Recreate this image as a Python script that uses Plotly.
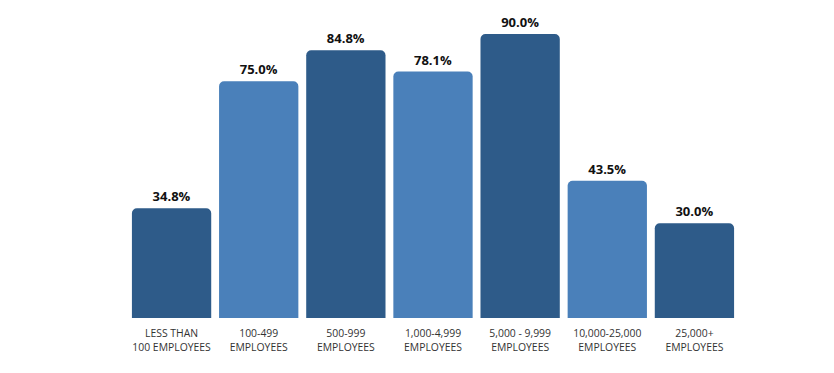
import plotly.graph_objects as go

categories = ["LESS THAN<br>100 EMPLOYEES", "100-499<br>EMPLOYEES", "500-999<br>EMPLOYEES",
              "1,000-4,999<br>EMPLOYEES", "5,000 - 9,999<br>EMPLOYEES", "10,000-25,000<br>EMPLOYEES",
              "25,000+<br>EMPLOYEES"]
values = [34.8, 75.0, 84.8, 78.1, 90.0, 43.5, 30.0]
labels = ["34.8%", "75.0%", "84.8%", "78.1%", "90.0%", "43.5%", "30.0%"]

DARK = "#2e5b89"
LIGHT = "#4a80ba"
colors = [DARK if i % 2 == 0 else LIGHT for i in range(len(values))]

fig = go.Figure(go.Bar(
    x=categories, y=values, text=labels, textposition="outside",
    textfont=dict(family="Open Sans", size=13, color="#111111", weight="bold"),
    marker=dict(color=colors, cornerradius=5, line=dict(width=0)),
    cliponaxis=False, hoverinfo="skip",
))

fig.update_layout(
    width=834, height=373,
    margin=dict(l=120, r=104, t=12, b=63),
    paper_bgcolor="white", plot_bgcolor="white",
    bargap=0.09, showlegend=False,
    font=dict(family="Open Sans", color="#333333"),
)
fig.update_xaxes(range=[-0.5, 6.5], showgrid=False, showline=False, zeroline=False,
                 tickfont=dict(family="Open Sans", size=10.4, color="#333333"), ticks="",
                 ticklabelstandoff=8)
fig.update_yaxes(range=[0, 94.42], visible=False, showgrid=False, zeroline=False)

fig.write_html("out.html")
